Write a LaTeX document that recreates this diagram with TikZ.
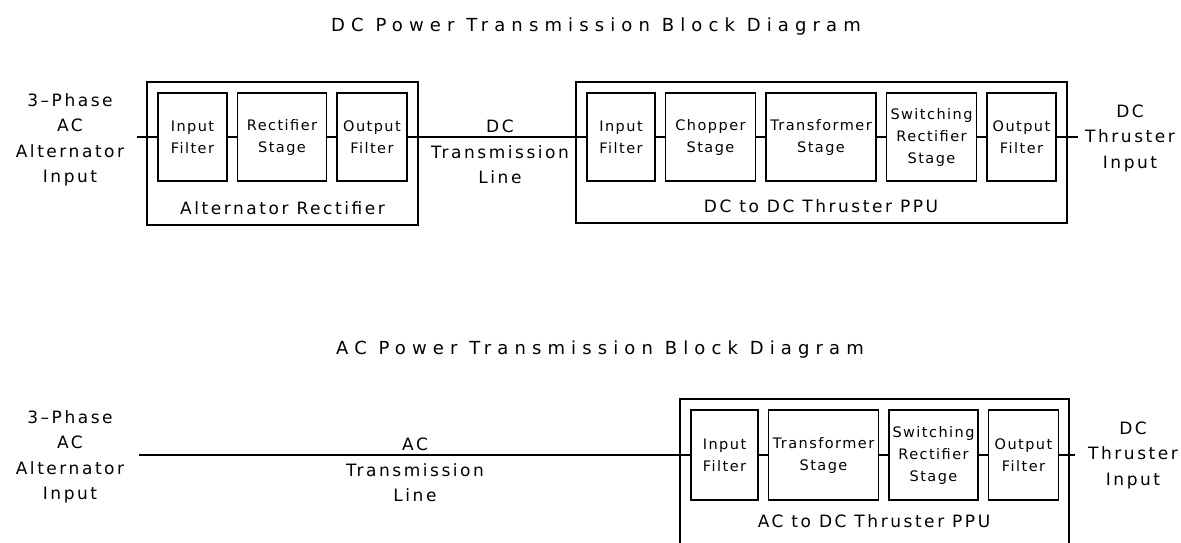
\documentclass[tikz,border=0pt]{standalone}
\usepackage{fontspec}
\setmainfont{DejaVu Sans}[LetterSpace=15]
\newfontfamily\headfont{DejaVu Sans}[LetterSpace=34]
\newfontfamily\boxfont{DejaVu Sans}[LetterSpace=10]
\usetikzlibrary{positioning,fit}

\begin{document}
\begin{tikzpicture}[x=1pt,y=-1pt,node distance=9pt,
  blk/.style={draw,line width=1.5pt,align=center,minimum height=88pt,inner sep=0pt,font=\boxfont\fontsize{14.5}{22}\selectfont},
  frm/.style={draw,line width=2pt,inner sep=10pt},
  txt/.style={align=center,inner sep=0pt,font=\fontsize{17}{25.5}\selectfont},
  ttl/.style={inner sep=0pt,font=\headfont\fontsize{18}{22}\selectfont},
  wire/.style={line width=1.4pt}]
\useasboundingbox (0,0) rectangle (1181,542);

% DC transmission
\node[ttl] (dcT) at (596,27) {DC Power Transmission Block Diagram};
\node[blk,minimum width=69pt] (aIn) at (192.5,137) {Input\\Filter};
\node[blk,minimum width=89pt,right=of aIn] (aRect) {Rectifier\\Stage};
\node[blk,minimum width=70pt,right=of aRect] (aOut) {Output\\Filter};
\node[txt] (aLbl) at (282.5,208) {Alternator Rectifier};
\node[frm,fit=(aIn)(aOut)(aLbl)] (aFrm) {};

\node[blk,minimum width=68pt] (bIn) at (621,137) {Input\\Filter};
\node[blk,minimum width=90pt,right=of bIn] (bChop) {Chopper\\Stage};
\node[blk,minimum width=110pt,right=of bChop] (bTrans) {Transformer\\Stage};
\node[blk,minimum width=90pt,right=of bTrans] (bSw) {Switching\\Rectifier\\Stage};
\node[blk,minimum width=69pt,right=of bSw] (bOut) {Output\\Filter};
\node[txt] (bLbl) at (821,206) {DC to DC Thruster PPU};
\node[frm,fit=(bIn)(bOut)(bLbl)] (bFrm) {};

\node[txt] (srcA) at (70,140) {3--Phase\\AC\\Alternator\\Input};
\node[txt] (lineA) at (500,152) {DC\\Transmission\\Line};
\node[txt] (dstA) at (1130,138) {DC\\Thruster\\Input};
\coordinate (aSrc) at (137,137);
\coordinate (bDst) at (1078,137);
\draw[wire] (aSrc) -- (aIn) (aIn) -- (aRect) (aRect) -- (aOut) (aOut) -- (bIn)
  (bIn) -- (bChop) (bChop) -- (bTrans) (bTrans) -- (bSw) (bSw) -- (bOut) (bOut) -- (bDst);

% AC transmission
\node[ttl] (acT) at (600,350) {AC Power Transmission Block Diagram};
\node[blk,minimum width=67pt,minimum height=90pt] (cIn) at (724.5,455) {Input\\Filter};
\node[blk,minimum width=110pt,minimum height=90pt,right=of cIn] (cTrans) {Transformer\\Stage};
\node[blk,minimum width=89pt,minimum height=90pt,right=of cTrans] (cSw) {Switching\\Rectifier\\Stage};
\node[blk,minimum width=70pt,minimum height=90pt,right=of cSw] (cOut) {Output\\Filter};
\node[txt] (cLbl) at (874,521) {AC to DC Thruster PPU};
\coordinate (cBot) at (874,536);
\node[frm,fit=(cIn)(cOut)(cBot)] (cFrm) {};

\node[txt] (srcC) at (70,457) {3--Phase\\AC\\Alternator\\Input};
\node[txt] (lineC) at (415,470) {AC\\Transmission\\Line};
\node[txt] (dstC) at (1133,455) {DC\\Thruster\\Input};
\coordinate (cSrc) at (139,455);
\coordinate (cDst) at (1075,455);
\draw[wire] (cSrc) -- (cIn) (cIn) -- (cTrans) (cTrans) -- (cSw) (cSw) -- (cOut) (cOut) -- (cDst);
\end{tikzpicture}
\end{document}
